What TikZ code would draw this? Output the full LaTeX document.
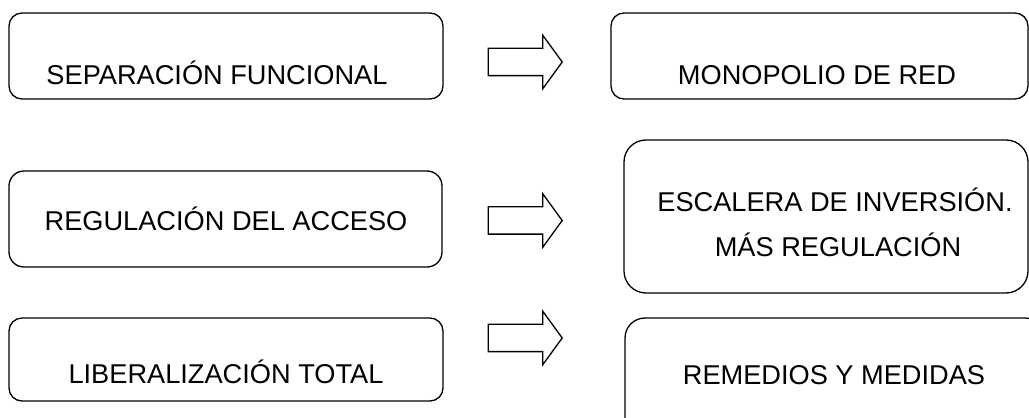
\documentclass[tikz,border=0pt]{standalone}
\usepackage{fontspec}
\setmainfont{Liberation Sans}
\usetikzlibrary{shapes.arrows}
\begin{document}
\begin{tikzpicture}[x=1pt,y=1pt,
                caja/.style={draw, line width=0.65pt, rounded corners=6.5pt, inner sep=0pt},
                texto/.style={anchor=base, inner sep=0pt, font=\fontsize{13.6}{16}\selectfont},
                flecha/.style={draw, line width=0.65pt, single arrow, single arrow head extend=6.5pt,
                  single arrow tip angle=108, minimum height=37pt, inner sep=6.5pt, anchor=tip}]
                \useasboundingbox (0,0) rectangle (514.5,209);
                \clip (0,0) rectangle (514.5,209);

                \node [caja, minimum width=217pt, minimum height=43pt] (sep) at (113,181) {};
                \node [caja, minimum width=208.5pt, minimum height=43pt] (mon) at (409.75,181) {};
                \node [caja, rounded corners=7.5pt, minimum width=216.5pt, minimum height=48pt] (reg) at (112.75,99.5) {};
                \node [caja, rounded corners=11pt, minimum width=202pt, minimum height=76.5pt] (esc) at (413,100.75) {};
                \node [caja, minimum width=217pt, minimum height=41.5pt] (lib) at (113,29.25) {};
                \node [caja, rounded corners=10pt, minimum width=210pt, minimum height=61pt] (rem) at (417.5,19.5) {};

                \node [texto] (septx) at (108.5,166.5) {SEPARACIÓN FUNCIONAL};
                \node [texto] (montx) at (408.5,166.5) {MONOPOLIO DE RED};
                \node [texto] (regtx) at (113,93.5) {REGULACIÓN DEL ACCESO};
                \node [texto] (esctx) at (417.5,103) {ESCALERA DE INVERSIÓN.};
                \node [texto] (masrg) at (419,80.5) {MÁS REGULACIÓN};
                \node [texto] (libtx) at (113,17) {LIBERALIZACIÓN TOTAL};
                \node [texto] (remtx) at (417,16.5) {REMEDIOS Y MEDIDAS};

                \node [flecha] (f1) at (281.5,178) {};
                \node [flecha] (f2) at (281.5,98.75) {};
                \node [flecha] (f3) at (281.5,40) {};
            \end{tikzpicture}
\end{document}
